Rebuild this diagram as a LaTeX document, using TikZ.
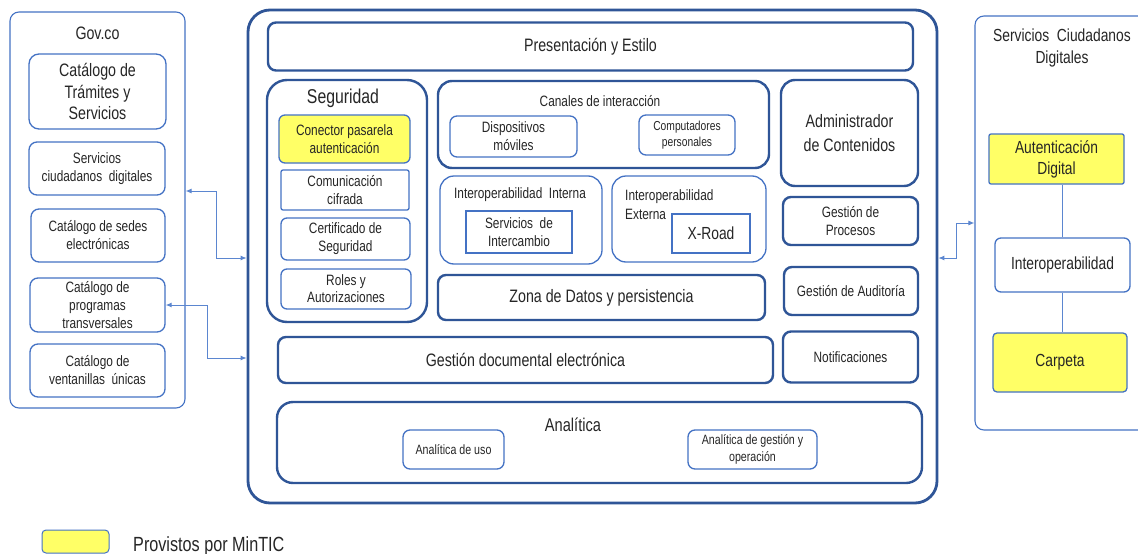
\documentclass[tikz,border=0pt]{standalone}
\usepackage{fontspec}
\setmainfont{Liberation Sans}[FakeStretch=0.79]
\usetikzlibrary{arrows.meta,calc}
\definecolor{dkb}{HTML}{2F5597}
\definecolor{mdb}{HTML}{4472C4}
\definecolor{lnb}{HTML}{5B86D0}
\definecolor{yel}{HTML}{FFFF66}
\definecolor{txt}{HTML}{262626}
\newcommand\fsz[2]{\fontsize{#1}{#2}\selectfont}
\tikzset{
  every node/.style={text=txt, align=center, inner sep=0pt},
  bx/.style 2 args={minimum width=#1pt, minimum height=#2pt},
  tk/.style={draw=dkb, line width=2.4pt, rounded corners=8pt},
  tn/.style={draw=mdb, line width=1.3pt, rounded corners=6pt},
  outer/.style={draw=mdb, line width=1.1pt, rounded corners=9pt},
  yfill/.style={fill=yel},
  conn/.style={draw=lnb, line width=1pt, {Latex[length=6pt,width=5pt]}-{Latex[length=6pt,width=5pt]}},
  link/.style={draw=lnb, line width=1pt},
}
\begin{document}
\begin{tikzpicture}[x=1pt, y=-1pt]
\clip (0,0) rectangle (1138,554);
\fill[white] (0,0) rectangle (1138,554);

% ---------- Gov.co ----------
\node[outer, bx={175}{396}] (gov) at (97.5,210) {};
\node[font=\fsz{18}{21}] (govt) at (97.5,33) {Gov.co};
\node[tn, rounded corners=10pt, bx={137}{75}, font=\fsz{18}{21.5}] (g1) at (97.5,91.5) {Catálogo de\\Trámites y\\Servicios};
\node[tn, rounded corners=8pt, bx={136}{53}, font=\fsz{15}{18}] (g2) at (97,168.5) {Servicios\\ciudadanos\ \ digitales};
\node[tn, rounded corners=8pt, bx={134}{53}, font=\fsz{15}{18}] (g3) at (98,235.5) {Catálogo de sedes\\electrónicas};
\node[tn, rounded corners=8pt, bx={135}{54}, font=\fsz{15}{18}] (g4) at (97.5,305) {Catálogo de\\programas\\transversales};
\node[tn, rounded corners=8pt, bx={135}{53}, font=\fsz{15}{18}] (g5) at (97.5,370.5) {Catálogo de\\ventanillas\ \ únicas};

% ---------- Main platform ----------
\node[tk, line width=2.8pt, rounded corners=22pt, bx={689}{493}] (main) at (592.5,256.5) {};
\node[tk, bx={645}{48}, font=\fsz{18}{21}] (pres) at (590.5,46.5) {Presentación y Estilo};

% Seguridad
\node[tk, rounded corners=20pt, bx={160}{242}] (seg) at (347,201) {};
\node[font=\fsz{20}{24}] (segt) at (343,98) {Seguridad};
\node[tn, yfill, bx={131}{48}, font=\fsz{15}{18}] (cpa) at (344.5,139) {Conector pasarela\\autenticación};
\node[tn, rounded corners=2pt, bx={128}{40}, font=\fsz{15}{18}] (com) at (345,190) {Comunicación\\cifrada};
\node[tn, bx={129}{42}, font=\fsz{15}{18}] (cert) at (345.5,239) {Certificado de\\Seguridad};
\node[tn, bx={130}{40}, font=\fsz{15}{17}] (roles) at (346,289) {Roles y\\Autorizaciones};

% Canales
\node[tk, rounded corners=14pt, bx={331}{87}] (can) at (603.5,124.5) {};
\node[font=\fsz{15}{18}] (cant) at (600,101) {Canales\ de\ interacción};
\node[tn, rounded corners=7pt, bx={127}{41}, font=\fsz{15}{18}] (disp) at (513.5,136.5) {Dispositivos\\móviles};
\node[tn, rounded corners=7pt, bx={96}{40}, font=\fsz{13}{16}] (comp) at (687,135) {Computadores\\personales};

% Interoperabilidad interna / externa
\node[tn, rounded corners=14pt, bx={162}{88}] (iint) at (521,220) {};
\node[font=\fsz{15}{18}] (iintt) at (520,195) {Interoperabilidad\ \ Interna};
\node[draw=mdb, line width=1.3pt, bx={106}{42}, font=\fsz{15}{18}] (sint) at (519,232) {Servicios\ \ de\\Intercambio};
\node[tn, rounded corners=14pt, bx={154}{86}] (iext) at (689,219) {};
\node[anchor=west, align=left, font=\fsz{15}{19}] (iextt) at (625,204.5) {Interoperabilidad\\Externa};
\node[draw=mdb, line width=1.3pt, bx={78}{39}, font=\fsz{17.5}{20}] (xroad) at (711,233.5) {X-Road};

\node[tk, bx={327}{45}, font=\fsz{18}{21}] (zona) at (601.5,297.5) {Zona de Datos y persistencia};

% Right column
\node[tk, rounded corners=14pt, bx={137}{106}, font=\fsz{18}{24}] (adm) at (849.5,133) {Administrador\\de Contenidos};
\node[tk, bx={135}{48}, font=\fsz{15}{18}] (gproc) at (850.5,221) {Gestión de\\Procesos};
\node[tk, bx={134}{48}, font=\fsz{15}{18}] (gaud) at (851,291) {Gestión de Auditoría};
\node[tk, bx={135}{51}, font=\fsz{15}{18}] (notif) at (850.5,357) {Notificaciones};

\node[tk, bx={495}{46}, font=\fsz{18}{21}] (gdoc) at (525.5,360) {Gestión documental electrónica};

% Analitica
\node[tk, rounded corners=16pt, bx={645}{81}] (anal) at (599.5,442.5) {};
\node[font=\fsz{18.5}{21}] (analt) at (573,425) {Analítica};
\node[tn, rounded corners=7pt, bx={101}{39}, font=\fsz{13.5}{16}] (anuso) at (453.5,449.5) {Analítica de uso};
\node[tn, rounded corners=7pt, bx={129}{39}, font=\fsz{13.5}{17}] (angest) at (752.5,449.5) {Analítica de gestión y\\operación};

% ---------- Servicios Ciudadanos Digitales ----------
\node[outer, bx={175}{414}] (scd) at (1062.5,223) {};
\node[font=\fsz{17.5}{21.5}] (scdt) at (1062,48) {Servicios\ \ Ciudadanos\\Digitales};
\node[draw=mdb, line width=1.3pt, rounded corners=2pt, yfill, bx={135}{50}, font=\fsz{17.5}{21}] (aut) at (1056.5,159) {Autenticación\\Digital};
\node[tn, bx={135}{54}, font=\fsz{17.5}{21}] (iop) at (1062.5,265) {Interoperabilidad};
\node[draw=mdb, line width=1.3pt, rounded corners=4pt, yfill, bx={134}{59}, font=\fsz{17.5}{21}] (carp) at (1060,362.5) {Carpeta};
\draw[link] (iop.north) -- (iop.north |- aut.south);
\draw[link] (iop.south) -- (iop.south |- carp.north);

% ---------- connectors ----------
\coordinate (y191) at (0,191);
\coordinate (y258) at (0,258);
\coordinate (y358) at (0,358);
\coordinate (y223) at (0,223);
\draw[conn] (gov.east |- y191) -- (216,191) -- (216,258) -- (main.west |- y258);
\draw[conn] (g4.east) -- (207,305) -- (207,358) -- (main.west |- y358);
\draw[conn] (main.east |- y258) -- (956,258) -- (956,223) -- (scd.west |- y223);

% ---------- legend ----------
\node[draw=mdb, line width=1pt, rounded corners=4pt, yfill, bx={67}{23}] (leg) at (75.5,541.5) {};
\node[anchor=west, font=\fsz{20.5}{24}] (legt) at (133,546) {Provistos por MinTIC};
\end{tikzpicture}
\end{document}
